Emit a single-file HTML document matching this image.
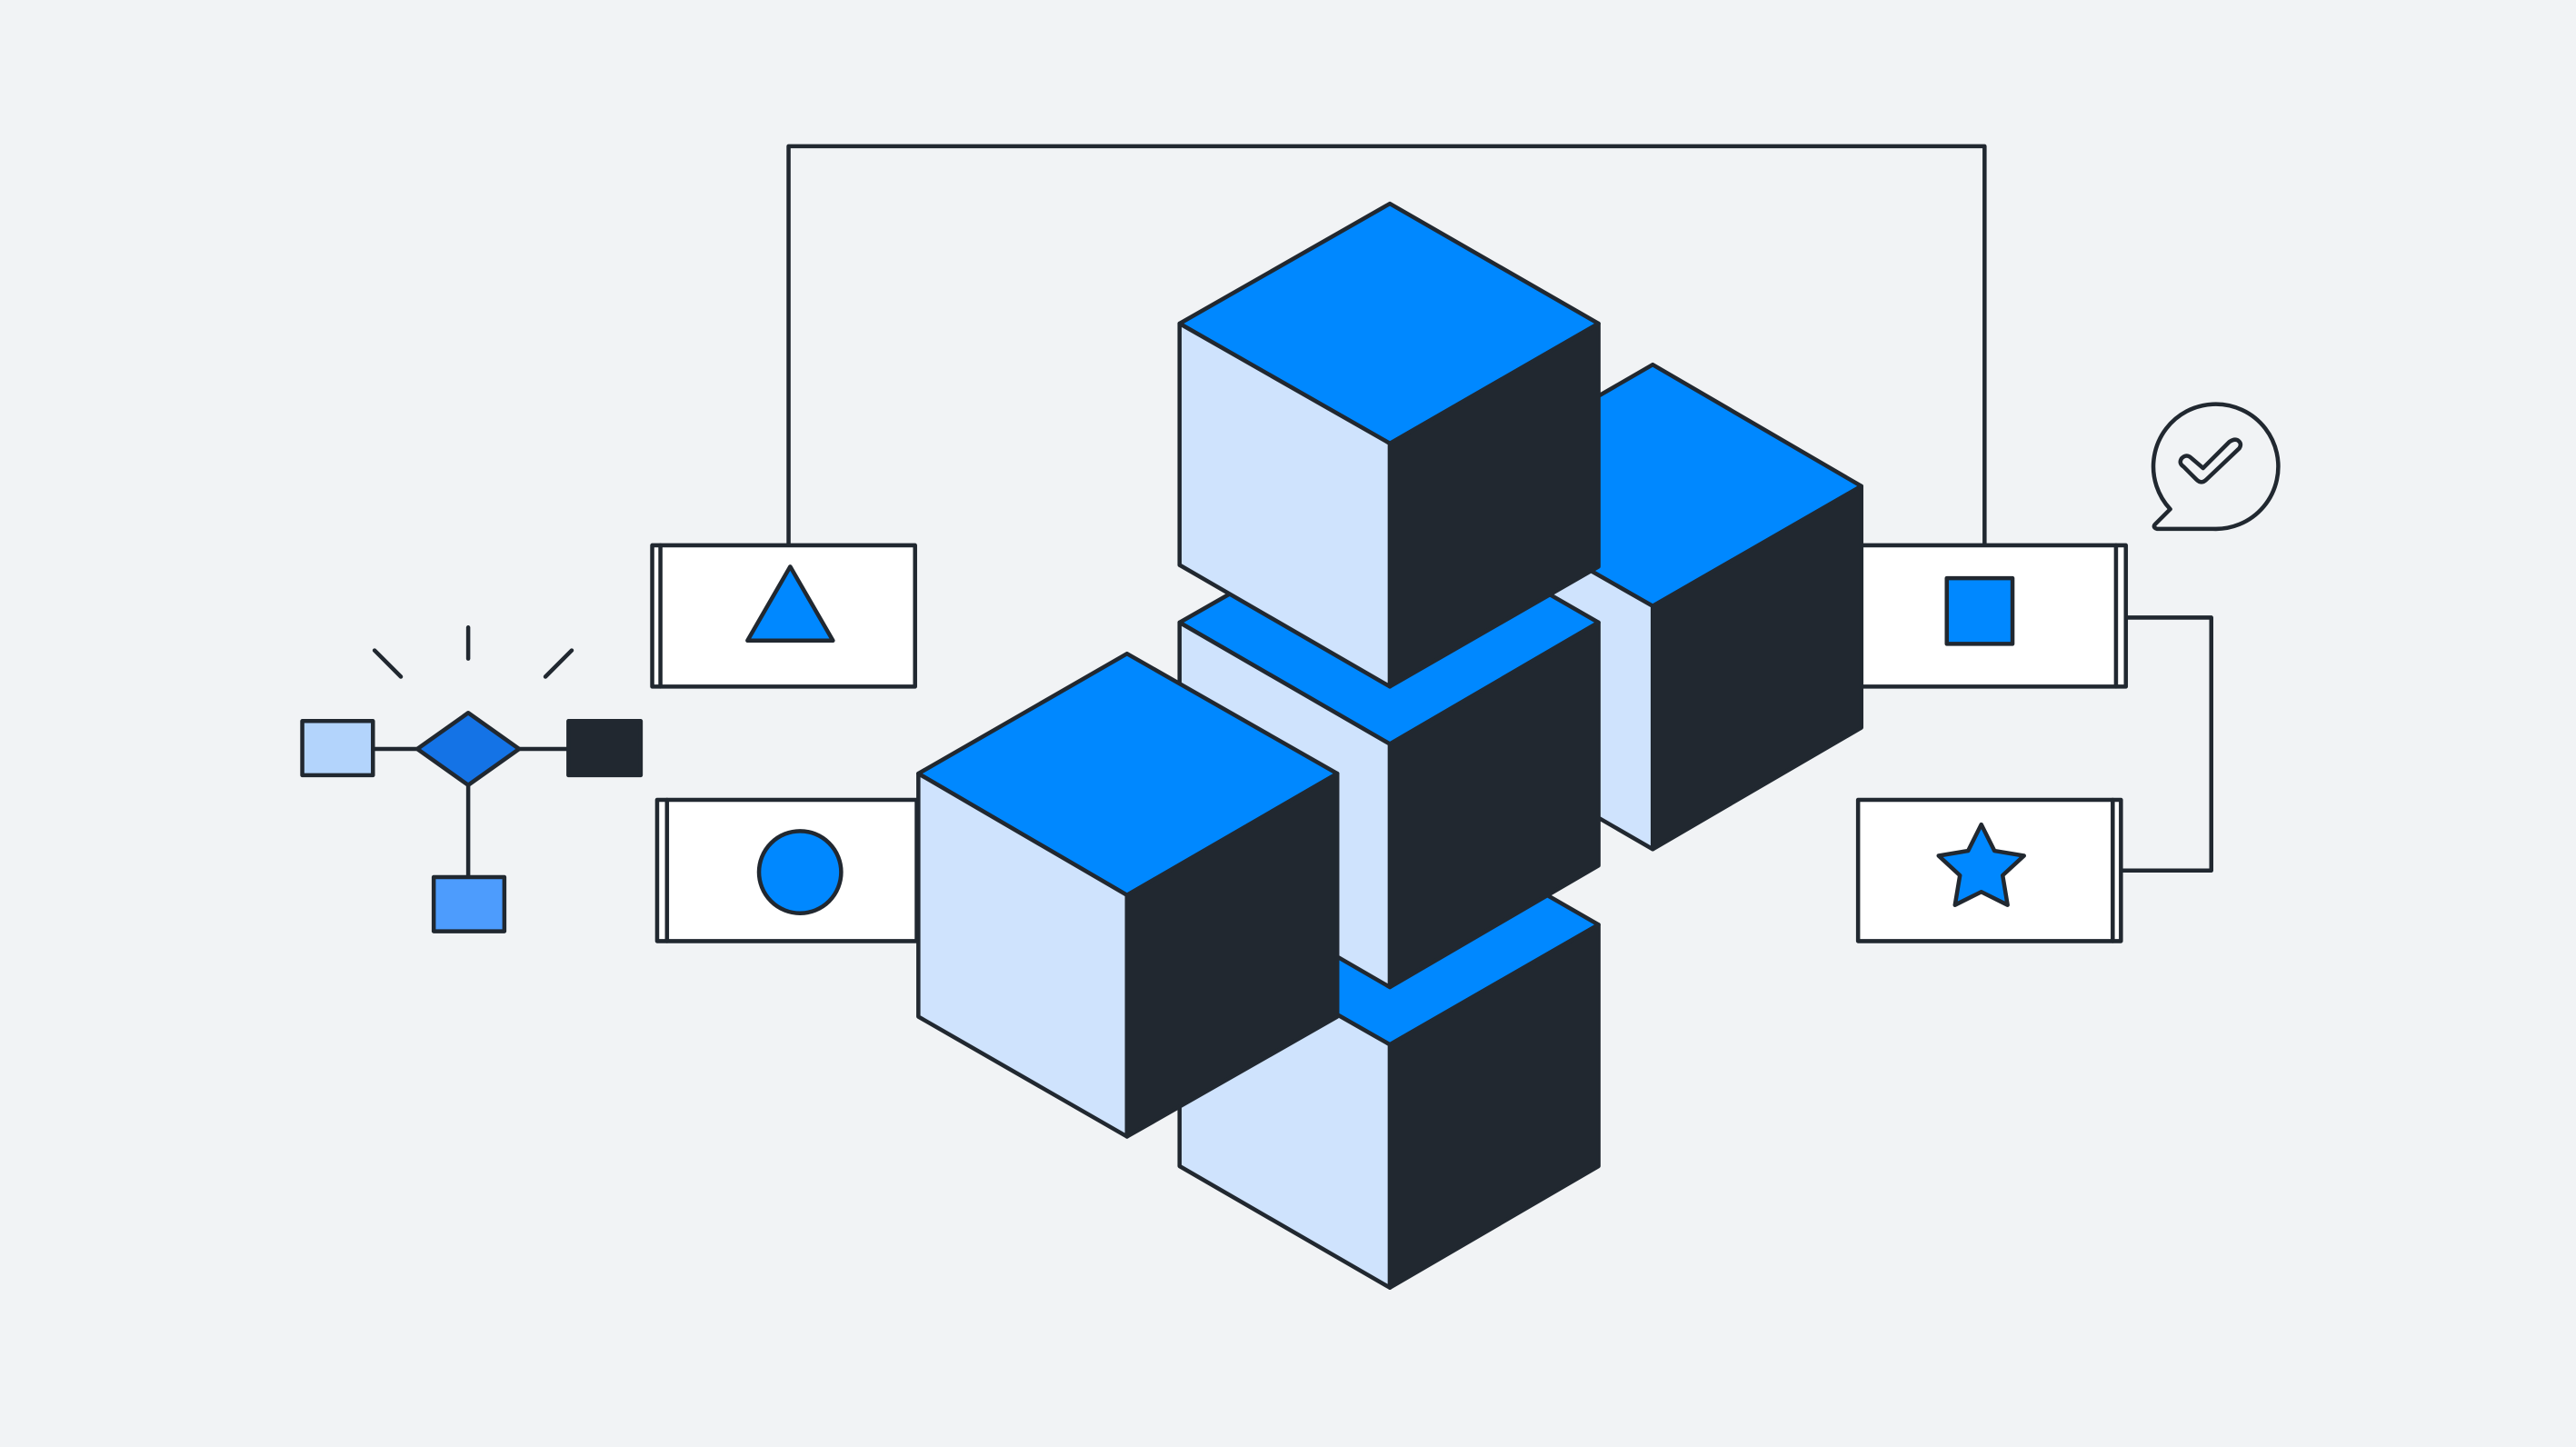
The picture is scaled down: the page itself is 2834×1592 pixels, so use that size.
<!DOCTYPE html>
<html><head><meta charset="utf-8"><style>html,body{margin:0;padding:0;background:#f1f3f5;overflow:hidden}svg{display:block}</style></head>
<body>
<svg width="2834" height="1592" viewBox="0 0 1568 881" preserveAspectRatio="none" xmlns="http://www.w3.org/2000/svg">
<rect width="1568" height="881" fill="#f1f3f5"/>
<g stroke="#212830" stroke-width="2.5" stroke-linejoin="round" stroke-linecap="round" fill="none">
<polyline points="480,332 480,89 1208,89 1208,332"/>
<polyline points="1294,376 1346,376 1346,530 1291,530"/>
<rect x="397" y="332" width="160" height="86" fill="#fff"/><line x1="402" y1="332" x2="402" y2="418"/>
<rect x="400" y="487" width="158" height="86" fill="#fff"/><line x1="406" y1="487" x2="406" y2="573"/>
<rect x="1133" y="332" width="161" height="86" fill="#fff"/><line x1="1288" y1="332" x2="1288" y2="418"/>
<rect x="1131" y="487" width="160" height="86" fill="#fff"/><line x1="1286" y1="487" x2="1286" y2="573"/>
<polygon points="455,390 481,345 507,390" fill="#0088ff"/>
<circle cx="487" cy="531" r="25" fill="#0088ff"/>
<rect x="1185" y="352" width="40" height="40" fill="#0088ff"/>
<polygon points="1206,502 1214,518 1232,521 1219,533 1222,551 1206,543 1190,551 1193,533 1180,521 1198,518" fill="#0088ff"/>
<line x1="227" y1="456" x2="254" y2="456"/><line x1="316" y1="456" x2="346" y2="456"/><line x1="285" y1="478" x2="285" y2="534"/>
<rect x="184" y="439" width="43" height="33" fill="#b3d4fc"/>
<rect x="346" y="439" width="44" height="33" fill="#212830"/>
<rect x="264" y="534" width="43" height="33" fill="#4d9cfd"/>
<polygon points="254,456 285,434 316,456 285,478" fill="#1473e6"/>
<line x1="228" y1="396" x2="244" y2="412"/><line x1="285" y1="382" x2="285" y2="401"/><line x1="348" y1="396" x2="332" y2="412"/>
<path d="M1321,310 A38,38 0 1 1 1347,322 L1313,322 Q1310,321 1312,319 Z"/>
<path d="M1334,279 Q1331,276 1328,279 Q1326,282 1329,284 L1337,292 Q1340,295 1343,292 L1363,273 Q1365,270 1362,268 Q1360,267 1357,269 L1341,285 Z"/>
<polygon points="718,563 846,490 973,563 846,636" fill="#0088ff"/>
<polygon points="718,563 846,636 846,784 718,710" fill="#cfe3fd"/>
<polygon points="846,636 973,563 973,710 846,784" fill="#212830"/>
<polygon points="878,296 1006,222 1133,296 1006,369" fill="#0088ff"/>
<polygon points="878,296 1006,369 1006,517 878,443" fill="#cfe3fd"/>
<polygon points="1006,369 1133,296 1133,443 1006,517" fill="#212830"/>
<polygon points="718,379 846,306 973,379 846,453" fill="#0088ff"/>
<polygon points="718,379 846,453 846,601 718,527" fill="#cfe3fd"/>
<polygon points="846,453 973,379 973,527 846,601" fill="#212830"/>
<polygon points="718,197 846,124 973,197 846,270" fill="#0088ff"/>
<polygon points="718,197 846,270 846,418 718,344" fill="#cfe3fd"/>
<polygon points="846,270 973,197 973,345 846,418" fill="#212830"/>
<polygon points="559,471 686,398 814,471 686,545" fill="#0088ff"/>
<polygon points="559,471 686,545 686,692 559,619" fill="#cfe3fd"/>
<polygon points="686,545 814,471 814,619 686,692" fill="#212830"/>
</g>
</svg>
</body></html>
